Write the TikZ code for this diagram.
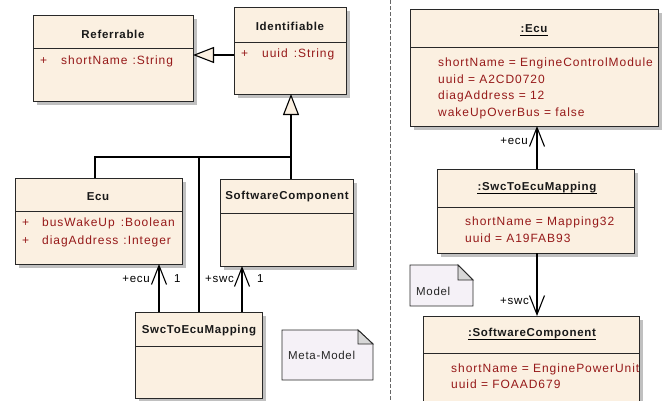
\documentclass[tikz,border=0pt]{standalone}
\usepackage{fontspec}
\setmainfont{Liberation Sans}[LetterSpace=6]
\newfontfamily\attrfont{Liberation Sans}[LetterSpace=8]
\usetikzlibrary{arrows.meta,shadows,calc}

\definecolor{umlfill}{RGB}{251,240,225}
\definecolor{notefill}{RGB}{245,241,247}
\definecolor{foldgray}{RGB}{215,215,215}
\definecolor{attrred}{RGB}{150,25,25}
\definecolor{shadowgray}{RGB}{192,192,192}
\definecolor{edgegray}{RGB}{40,40,40}

\newcommand{\umlsize}{\fontsize{11.5}{13}\selectfont}
\newcommand{\attrsize}{\fontsize{12}{14}\selectfont}

\begin{document}
\begin{tikzpicture}[x=1pt,y=-1pt,
  umlbox/.style={draw=edgegray, line width=0.9pt, fill=umlfill, anchor=north west,
    inner sep=0pt, outer sep=0pt,
    drop shadow={shadow xshift=4pt, shadow yshift=-4pt, opacity=1, fill=shadowgray}},
  sepline/.style={draw=edgegray, line width=0.9pt},
  ttl/.style={font=\bfseries\umlsize, text=black!90, inner sep=0pt},
  attr/.style={font=\attrfont\attrsize, text=attrred, anchor=west, inner sep=0pt,
    text height=8.5pt, text depth=2.5pt},
  lbl/.style={font=\umlsize, text=black, inner sep=0pt,
    text height=8.5pt, text depth=2.5pt},
  notetext/.style={font=\umlsize, text=black!85, anchor=west, inner sep=0pt,
    text height=8.5pt, text depth=2.5pt},
  notebox/.style={draw=edgegray, line width=0.9pt, fill=notefill},
  fold/.style={draw=edgegray, line width=0.9pt, fill=foldgray},
  link/.style={draw=black, line width=1.1pt},
  gen/.style={link, -{Triangle[length=21pt, width=16pt, fill=umlfill]}},
  assoc/.style={link, -{Straight Barb[length=19pt, width=15pt]}},
  divider/.style={draw=black!60, line width=0.9pt, dash pattern=on 4pt off 2pt}
]
\useasboundingbox (0,0) rectangle (662,400);

% ---------- class diagram ----------
\node[umlbox, minimum width=160pt, minimum height=86pt] (Ref) at (33,15) {};
\draw[sepline] ($(Ref.north west)+(0,33)$) -- ($(Ref.north east)+(0,33)$);
\node[ttl] (RefT) at (113,34) {Referrable};
\node[attr] (RefP) at (40,61) {+};
\node[attr] (RefA) at (61,61) {shortName\hspace{5pt}:String};

\node[umlbox, minimum width=112pt, minimum height=87pt] (Idf) at (234,7) {};
\draw[sepline] ($(Idf.north west)+(0,35)$) -- ($(Idf.north east)+(0,35)$);
\node[ttl] (IdfT) at (290,26) {Identifiable};
\node[attr] (IdfP) at (241,54) {+};
\node[attr] (IdfA) at (262,54) {uuid\hspace{6pt}:String};

\node[umlbox, minimum width=167pt, minimum height=86pt] (Ecu) at (15,178) {};
\draw[sepline] ($(Ecu.north west)+(0,33)$) -- ($(Ecu.north east)+(0,33)$);
\node[ttl] (EcuT) at (98,197) {Ecu};
\node[attr] (EcuP1) at (22,223) {+};
\node[attr] (EcuA1) at (42,223) {busWakeUp\hspace{6pt}:Boolean};
\node[attr] (EcuP2) at (22,241) {+};
\node[attr] (EcuA2) at (42,241) {diagAddress\hspace{5pt}:Integer};

\node[umlbox, minimum width=133pt, minimum height=87pt] (Swc) at (220,179) {};
\draw[sepline] ($(Swc.north west)+(0,34)$) -- ($(Swc.north east)+(0,34)$);
\node[ttl] (SwcT) at (287,197) {SoftwareComponent};

\node[umlbox, minimum width=127pt, minimum height=86pt] (Map) at (135,312) {};
\draw[sepline] ($(Map.north west)+(0,34)$) -- ($(Map.north east)+(0,34)$);
\node[ttl] (MapT) at (199,331) {SwcToEcuMapping};

% generalisations
\coordinate (gy) at (0,55);
\draw[gen] (Idf.west |- gy) -- (Ref.east |- gy);
\coordinate (jn) at (291,157);
\coordinate (ecuUp) at ($(Ecu.north west)+(80,0)$);
\coordinate (mapUp) at ($(Map.north west)+(64,0)$);
\draw[gen] (jn |- Swc.north) -- (jn |- Idf.south);
\draw[link] (ecuUp) |- (jn);
\draw[link] (mapUp) -- (mapUp |- jn);

% associations
\coordinate (mEcu) at ($(Map.north west)+(24,0)$);
\coordinate (mSwc) at ($(Map.north west)+(107,0)$);
\draw[assoc] (mEcu) -- (mEcu |- Ecu.south);
\draw[assoc] (mSwc) -- (mSwc |- Swc.south);
\node[lbl, anchor=east] (lEcu) at (150,279) {+ecu};
\node[lbl, anchor=west] (mulEcu) at (174,279) {1};
\node[lbl, anchor=east] (lSwc) at (234,279) {+swc};
\node[lbl, anchor=west] (mulSwc) at (257,279) {1};

% note
\path[notebox] (282,330) -- (358,330) -- (373,344) -- (373,380) -- (282,380) -- cycle;
\path[fold] (358,330) -- (358,344) -- (373,344) -- cycle;
\node[notetext] (metaNote) at (288,356) {Meta-Model};

% ---------- divider ----------
\draw[divider] (390,0) -- (390,400);

% ---------- object diagram ----------
\node[umlbox, minimum width=248pt, minimum height=117pt] (oEcu) at (410,9) {};
\draw[sepline] ($(oEcu.north west)+(0,38)$) -- ($(oEcu.north east)+(0,38)$);
\node[ttl] (oEcuT) at (534,29) {:Ecu};
\draw[line width=0.8pt] ($(oEcuT.base west)+(0,2.5)$) -- ($(oEcuT.base east)+(0,2.5)$);
\node[attr] (oEcuA1) at (438,63) {shortName = EngineControlModule};
\node[attr] (oEcuA2) at (438,80) {uuid = A2CD0720};
\node[attr] (oEcuA3) at (438,96) {diagAddress = 12};
\node[attr] (oEcuA4) at (438,113) {wakeUpOverBus = false};

\node[umlbox, minimum width=197pt, minimum height=84pt] (oMap) at (437,169) {};
\draw[sepline] ($(oMap.north west)+(0,38)$) -- ($(oMap.north east)+(0,38)$);
\node[ttl] (oMapT) at (537,188) {:SwcToEcuMapping};
\draw[line width=0.8pt] ($(oMapT.base west)+(0,2.5)$) -- ($(oMapT.base east)+(0,2.5)$);
\node[attr] (oMapA1) at (465,222) {shortName = Mapping32};
\node[attr] (oMapA2) at (465,239) {uuid = A19FAB93};

\node[umlbox, minimum width=216pt, minimum height=100pt] (oSwc) at (423,316) {};
\draw[sepline] ($(oSwc.north west)+(0,37)$) -- ($(oSwc.north east)+(0,37)$);
\node[ttl] (oSwcT) at (532,334) {:SoftwareComponent};
\draw[line width=0.8pt] ($(oSwcT.base west)+(0,2.5)$) -- ($(oSwcT.base east)+(0,2.5)$);
\node[attr] (oSwcA1) at (451,369) {shortName = EnginePowerUnit};
\node[attr] (oSwcA2) at (451,385) {uuid = FOAAD679};

% links
\coordinate (oc) at (537,0);
\draw[assoc] (oc |- oMap.north) -- (oc |- oEcu.south);
\draw[assoc] (oc |- oMap.south) -- (oc |- oSwc.north);
\node[lbl, anchor=east] (olEcu) at (528,141) {+ecu};
\node[lbl, anchor=east] (olSwc) at (529,301) {+swc};

% note
\path[notebox] (410,265) -- (458,265) -- (473,280) -- (473,306) -- (410,306) -- cycle;
\path[fold] (458,265) -- (458,280) -- (473,280) -- cycle;
\node[notetext] (modelNote) at (416,292) {Model};
\end{tikzpicture}
\end{document}
